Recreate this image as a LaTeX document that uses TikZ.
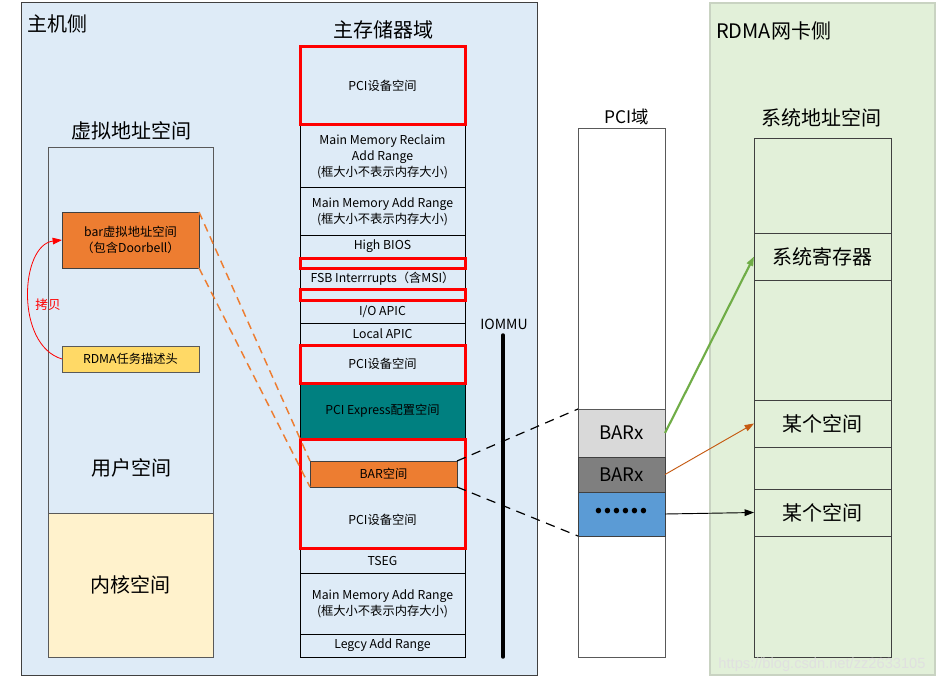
\documentclass[tikz,border=0pt]{standalone}
\usepackage{fontspec}
\setmainfont{Noto Sans CJK SC}
\newfontfamily\wmfont{Liberation Sans}
\usetikzlibrary{arrows.meta}
\definecolor{hostbg}{HTML}{DEEBF7}
\definecolor{hostborder}{HTML}{404040}
\definecolor{nicbg}{HTML}{E2F0D9}
\definecolor{nicborder}{HTML}{C9D3C2}
\definecolor{orangeA}{HTML}{ED7D31}
\definecolor{yellowA}{HTML}{FFD966}
\definecolor{kernelbg}{HTML}{FFF2CC}
\definecolor{tealA}{HTML}{008080}
\definecolor{barA}{HTML}{D9D9D9}
\definecolor{barB}{HTML}{7F7F7F}
\definecolor{blueA}{HTML}{5B9BD5}
\definecolor{greenA}{HTML}{70AD47}
\definecolor{orangeB}{HTML}{C55A11}
\definecolor{redA}{HTML}{FF0000}
\definecolor{grayA}{HTML}{595959}
\newcommand\fsm{\fontsize{9.2}{12}\selectfont}
\newcommand\fttl{\fontsize{15}{18}\selectfont}
% box by corners: [style]{name}{x1}{y1}{x2}{y2}{text}
\newcommand\bx[7][]{\node[rect,#1,minimum width={(#5-#3)*0.75pt},minimum height={(#6-#4)*0.75pt}] (#2) at ({(#3+#5)/2},{(#4+#6)/2}) {#7};}
\begin{document}
\begin{tikzpicture}[x=0.75pt,y=-0.75pt,
  rect/.style={draw,inner sep=1pt,outer sep=0pt,align=center,line width=0.75pt},
  memrow/.style={font=\fsm,draw=black},
  redrow/.style={draw=redA,line width=2.25pt,font=\fsm},
  ttl/.style={font=\fttl,inner sep=0pt},
  arrowtip/.style={-{Triangle[length=7pt,width=5pt]}},
  orangedash/.style={draw=orangeA,line width=1.1pt,dash pattern=on 6pt off 4pt},
  blackdash/.style={draw=black,line width=0.9pt,dash pattern=on 7pt off 5pt}]
\useasboundingbox (0,0) rectangle (944,684);
\fill[white] (0,0) rectangle (944,684);
% panels
\bx[fill=hostbg,draw=hostborder]{host}{21}{3}{537}{675}{}
\bx[fill=nicbg,draw=nicborder,line width=1.2pt]{nic}{710}{3}{935}{675}{}
% titles
\node[ttl,anchor=west] (thost) at (27,24) {主机侧};
\node[ttl] (tvirt) at (131,131) {虚拟地址空间};
\node[ttl] (tmem) at (383,30) {主存储器域};
\node[font=\fontsize{13}{15}\selectfont,inner sep=0pt] (tpci) at (627,117) {PCI域};
\node[font=\fontsize{10.5}{12}\selectfont,inner sep=0pt] (tiommu) at (504,324) {IOMMU};
\node[ttl,anchor=west] (tnic) at (716,31) {RDMA网卡侧};
\node[ttl] (tsys) at (821,118) {系统地址空间};
% virtual address space
\bx[draw=grayA,font=\fttl]{user}{48}{148}{213}{513}{}
\bx[draw=grayA,fill=kernelbg,font=\fttl]{kernel}{48}{513}{213}{657}{内核空间}
\node[ttl] (tuser) at (131,468) {用户空间};
\bx[fill=orangeA,draw=hostborder,font=\fsm]{barv}{62}{212}{199}{268}{bar虚拟地址空间\\（包含Doorbell）}
\bx[fill=yellowA,draw=grayA,font=\fsm]{rdma}{62}{346}{199}{372}{RDMA任务描述头}
% memory column rows
\bx[memrow]{mmr}{300}{125}{465}{188}{Main Memory Reclaim\\Add Range\\(框大小不表示内存大小)}
\bx[memrow]{mmaA}{300}{188}{465}{235}{Main Memory Add Range\\(框大小不表示内存大小)}
\bx[memrow]{hbios}{300}{235}{465}{258}{High BIOS}
\bx[memrow]{fsb}{300}{268}{465}{289}{FSB Interrrupts（含MSI）}
\bx[memrow]{ioapic}{300}{300}{465}{323}{I/O APIC}
\bx[memrow]{lapic}{300}{323}{465}{345}{Local APIC}
\bx[memrow,fill=tealA]{pcie}{300}{383}{465}{439}{PCI Express配置空间}
\bx[memrow]{tseg}{300}{548}{465}{573}{TSEG}
\bx[memrow]{mmaB}{300}{573}{465}{634}{Main Memory Add Range\\(框大小不表示内存大小)}
\bx[memrow]{legacy}{300}{634}{465}{657}{Legcy Add Range}
% red rows
\bx[redrow]{pciA}{300}{47}{465}{125}{PCI设备空间}
\bx[redrow]{redA1}{300}{258}{465}{268}{}
\bx[redrow]{redA2}{300}{289}{465}{300}{}
\bx[redrow]{pciB}{300}{345}{465}{383}{PCI设备空间}
\bx[redrow]{pciC}{300}{439}{465}{548}{}
\node[font=\fsm,inner sep=0pt] (tpciC) at (382.5,520) {PCI设备空间};
\bx[fill=orangeA,draw=hostborder,font=\fsm]{barsp}{310}{461}{457}{487}{BAR空间}
% IOMMU line
\coordinate (iomA) at (503,335);
\coordinate (iomB) at (503,657);
\draw[line width=2.6pt,line cap=round] (iomA) -- (iomB);
% PCI domain
\bx[fill=white,draw=grayA]{pci}{578}{129}{665}{657}{}
\bx[fill=barA,draw=grayA,font=\fontsize{14}{16}\selectfont]{barx1}{578}{409}{665}{457}{BARx}
\bx[fill=barB,draw=hostborder,font=\fontsize{14}{16}\selectfont]{barx2}{578}{457}{665}{492}{BARx}
\bx[fill=blueA,draw=hostborder,font=\fontsize{19}{20}\selectfont\bfseries]{dots}{578}{492}{665}{536}{\raisebox{4pt}{......}}
% system address space
\bx[draw=hostborder]{sysA}{754}{139}{891}{233}{}
\bx[draw=hostborder,font=\fttl]{sysreg}{754}{233}{891}{280}{系统寄存器}
\bx[draw=hostborder]{sysB}{754}{280}{891}{400}{}
\bx[draw=hostborder,font=\fttl]{someA}{754}{400}{891}{447}{某个空间}
\bx[draw=hostborder]{sysC}{754}{447}{891}{489}{}
\bx[draw=hostborder,font=\fttl]{someB}{754}{489}{891}{536}{某个空间}
\bx[draw=hostborder]{sysD}{754}{536}{891}{657}{}
% connectors
\draw[orangedash] (barv.north east) -- (barsp.north west);
\draw[orangedash] (barv.south east) -- (barsp.south west);
\draw[blackdash] (barsp.north east) -- (barx1.north west);
\draw[blackdash] (barsp.south east) -- (dots.south west);
\draw[redA,line width=0.6pt,arrowtip] (rdma.west) .. controls (15,345) and (20,245) .. (barv.west);
\node[text=redA,font=\fontsize{9.5}{11}\selectfont,inner sep=0pt] (tcopy) at (48,305) {拷贝};
\draw[greenA,line width=1.6pt,arrowtip] (barx1.east) -- (sysreg.west);
\draw[orangeB,line width=0.7pt,arrowtip] (barx2.east) -- (someA.west);
\draw[black,line width=0.7pt,arrowtip] (dots.east) -- (someB.west);
% watermark
\node[text=black!12,font=\wmfont\fontsize{11}{13}\selectfont,inner sep=0pt] (wm) at (822,665) {https://blog.csdn.net/zz2633105};
\end{tikzpicture}
\end{document}
